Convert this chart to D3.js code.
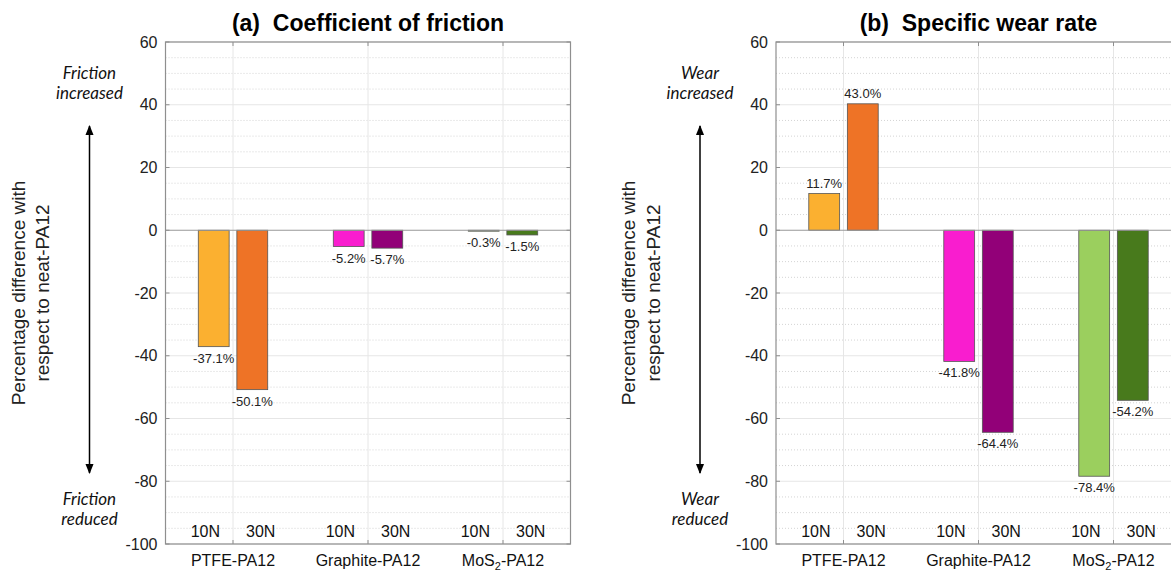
<!DOCTYPE html>
<html>
<head>
<meta charset="utf-8">
<script src="https://cdn.jsdelivr.net/npm/d3@7"></script>
<style>
  body { margin: 0; background: #fff; }
  svg { display: block; }
</style>
</head>
<body>
<div id="chart"></div>
<script>
// materials and loads
const groups = ["PTFE-PA12", "Graphite-PA12", "MoS2-PA12"];
const loads = ["10N", "30N"];

// bar values (per group: 10N, 30N)
const frictionValues = [[-37.1, -50.8], [-5.2, -5.7], [-0.3, -1.5]];
const frictionLabels = [["-37.1%", "-50.1%"], ["-5.2%", "-5.7%"], ["-0.3%", "-1.5%"]];
const wearValues = [[11.7, 40.3], [-41.8, -64.4], [-78.4, -54.2]];
const wearLabels = [["11.7%", "43.0%"], ["-41.8%", "-64.4%"], ["-78.4%", "-54.2%"]];

const barColors = [["#FBB030", "#EE7326"], ["#F91DCF", "#920078"], ["#9BCF5E", "#487A1C"]];
const yTicks = [-100, -80, -60, -40, -20, 0, 20, 40, 60];
const minorTicks = d3.range(-95, 60, 5).filter(v => v % 20 != 0);

const width = 1171, height = 571;

const svg = d3.select("#chart")
  .append("svg")
  .attr("width", width)
  .attr("height", height)
  .style("font-family", "'Liberation Sans', Arial, sans-serif");

svg.append("defs").append("marker")
  .attr("id", "head")
  .attr("viewBox", "0 0 10 10")
  .attr("refX", 9).attr("refY", 5)
  .attr("markerWidth", 7).attr("markerHeight", 7)
  .attr("orient", "auto-start-reverse")
  .append("path")
  .attr("d", "M0,1 L10,5 L0,9 Z")
  .attr("fill", "#000");

function drawPanel(left, title, values, labels, upText, downText) {
  const g = svg.append("g");

  const x = d3.scaleLinear().domain([0.5, 3.5]).range([left, left + 405]);
  const y = d3.scaleLinear().domain([-100, 60]).range([544, 42]);
  const groupWidth = 2 / 3.5, barW = 0.8 * groupWidth / 2;

  // grid
  g.selectAll(".minor").data(minorTicks).enter().append("line")
    .attr("x1", x(0.5)).attr("x2", x(3.5))
    .attr("y1", d => y(d)).attr("y2", d => y(d))
    .attr("stroke", "#d4d4d4").attr("stroke-width", 1)
    .attr("stroke-dasharray", "1,2");

  g.selectAll(".major").data(yTicks.filter(d => d != 0)).enter().append("line")
    .attr("x1", x(0.5)).attr("x2", x(3.5))
    .attr("y1", d => y(d)).attr("y2", d => y(d))
    .attr("stroke", "#e6e6e6").attr("stroke-width", 1);

  g.selectAll(".vgrid").data([1, 2, 3]).enter().append("line")
    .attr("x1", d => x(d)).attr("x2", d => x(d))
    .attr("y1", y(60)).attr("y2", y(-100))
    .attr("stroke", "#e6e6e6").attr("stroke-width", 1);

  // bars
  const bars = [];
  values.forEach((pair, i) => pair.forEach((v, j) => {
    bars.push({ group: i + 1, side: j == 0 ? -1 : 1, v: v, label: labels[i][j], color: barColors[i][j] });
  }));
  const off = d => d.side * groupWidth / 4;

  g.selectAll("rect.bar").data(bars).enter().append("rect")
    .attr("x", d => x(d.group + off(d) - barW / 2))
    .attr("width", d => x(d.group + off(d) + barW / 2) - x(d.group + off(d) - barW / 2))
    .attr("y", d => y(Math.max(0, d.v)))
    .attr("height", d => Math.abs(y(d.v) - y(0)))
    .attr("fill", d => d.color)
    .attr("stroke", "#555")
    .attr("stroke-width", 0.8);

  // zero line
  g.append("line")
    .attr("x1", x(0.5)).attr("x2", x(3.5))
    .attr("y1", y(0)).attr("y2", y(0))
    .attr("stroke", "#999").attr("stroke-width", 1.2);

  g.selectAll("text.val").data(bars).enter().append("text")
    .attr("x", d => x(d.group + off(d)))
    .attr("y", d => d.v < 0 ? y(d.v) + 16 : y(d.v) - 6)
    .attr("text-anchor", "middle")
    .attr("font-size", 13)
    .attr("fill", "#222")
    .text(d => d.label);

  // box and ticks
  g.append("rect")
    .attr("x", x(0.5)).attr("y", y(60))
    .attr("width", x(3.5) - x(0.5)).attr("height", y(-100) - y(60))
    .attr("fill", "none").attr("stroke", "#8f8f8f").attr("stroke-width", 1.2);

  g.selectAll(".ytick").data(yTicks).enter().append("line")
    .attr("x1", x(0.5)).attr("x2", x(0.5) + 4)
    .attr("y1", d => y(d)).attr("y2", d => y(d))
    .attr("stroke", "#8f8f8f");
  g.selectAll(".ytick2").data(yTicks).enter().append("line")
    .attr("x1", x(3.5)).attr("x2", x(3.5) - 4)
    .attr("y1", d => y(d)).attr("y2", d => y(d))
    .attr("stroke", "#8f8f8f");
  g.selectAll(".xtick").data([1, 2, 3]).enter().append("line")
    .attr("x1", d => x(d)).attr("x2", d => x(d))
    .attr("y1", y(-100)).attr("y2", y(-100) - 4)
    .attr("stroke", "#8f8f8f");
  g.selectAll(".xtick2").data([1, 2, 3]).enter().append("line")
    .attr("x1", d => x(d)).attr("x2", d => x(d))
    .attr("y1", y(60)).attr("y2", y(60) + 4)
    .attr("stroke", "#8f8f8f");

  g.selectAll("text.ylab").data(yTicks).enter().append("text")
    .attr("x", x(0.5) - 8)
    .attr("y", d => y(d) + 5.5)
    .attr("text-anchor", "end")
    .attr("font-size", 16)
    .attr("fill", "#222")
    .text(d => d);

  // load labels inside the box
  g.selectAll("text.load").data(bars).enter().append("text")
    .attr("x", d => x(d.group + d.side * 0.205))
    .attr("y", 537)
    .attr("text-anchor", "middle")
    .attr("font-size", 16)
    .attr("fill", "#111")
    .text((d, i) => loads[i % 2]);

  // group labels
  groups.forEach((name, i) => {
    const t = g.append("text")
      .attr("x", x(i + 1))
      .attr("y", 566)
      .attr("text-anchor", "middle")
      .attr("font-size", 16)
      .attr("fill", "#111");
    if (name.indexOf("MoS2") == 0) {
      t.append("tspan").text("MoS");
      t.append("tspan").attr("font-size", 11).attr("dy", 4).text("2");
      t.append("tspan").attr("dy", -4).text(name.slice(4));
    } else {
      t.text(name);
    }
  });

  // title
  g.append("text")
    .attr("x", (x(0.5) + x(3.5)) / 2)
    .attr("y", 31)
    .attr("text-anchor", "middle")
    .attr("font-size", 23)
    .attr("font-weight", "bold")
    .attr("fill", "#000")
    .style("white-space", "pre")
    .text(title);

  // y axis label
  const ylab = ["Percentage difference with", "respect to neat-PA12"];
  ylab.forEach((s, k) => {
    const lx = left - 141 + k * 24.5;
    g.append("text")
      .attr("transform", `translate(${lx},293) rotate(-90)`)
      .attr("text-anchor", "middle")
      .attr("font-size", 19)
      .attr("fill", "#222")
      .text(s);
  });

  // direction arrow
  const ax = left - 76;
  g.append("line")
    .attr("x1", ax).attr("x2", ax)
    .attr("y1", 126).attr("y2", 473)
    .attr("stroke", "#000").attr("stroke-width", 1.5)
    .attr("marker-start", "url(#head)")
    .attr("marker-end", "url(#head)");

  const notes = [[upText, 79], [downText, 505]];
  notes.forEach(([words, by]) => {
    words.forEach((w, k) => {
      g.append("text")
        .attr("x", ax)
        .attr("y", by + k * 20)
        .attr("text-anchor", "middle")
        .attr("font-size", 17)
        .attr("font-style", "italic")
        .attr("font-family", "Lato, 'Open Sans', sans-serif")
        .attr("fill", "#111")
        .text(w);
    });
  });
}

drawPanel(165.5, "(a)  Coefficient of friction", frictionValues, frictionLabels,
  ["Friction", "increased"], ["Friction", "reduced"]);
drawPanel(776, "(b)  Specific wear rate", wearValues, wearLabels,
  ["Wear", "increased"], ["Wear", "reduced"]);
</script>
</body>
</html>
